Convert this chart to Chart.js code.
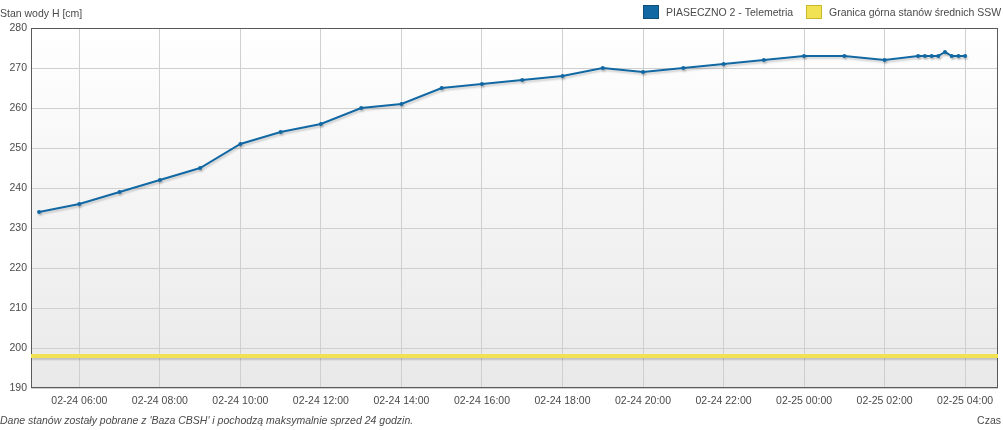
<!DOCTYPE html>
<html>
<head>
<meta charset="utf-8">
<script src="https://cdn.jsdelivr.net/npm/chart.js@4/dist/chart.umd.min.js"></script>
<style>
  html, body { margin: 0; padding: 0; background: #fff; }
  #wrap { width: 1003px; height: 430px; position: relative; }
</style>
</head>
<body>
<div id="wrap"><canvas id="chart" width="1003" height="430"></canvas></div>
<script>
// measurement times and water levels (cm)
const times = [
  '02-24 05:00', '02-24 06:00', '02-24 07:00', '02-24 08:00', '02-24 09:00', '02-24 10:00',
  '02-24 11:00', '02-24 12:00', '02-24 13:00', '02-24 14:00', '02-24 15:00', '02-24 16:00',
  '02-24 17:00', '02-24 18:00', '02-24 19:00', '02-24 20:00', '02-24 21:00', '02-24 22:00',
  '02-24 23:00', '02-25 00:00', '02-25 01:00', '02-25 02:00', '02-25 02:50', '02-25 03:00',
  '02-25 03:10', '02-25 03:20', '02-25 03:30', '02-25 03:40', '02-25 03:50', '02-25 04:00'
];
const levels = [
  234, 236, 239, 242, 245, 251,
  254, 256, 260, 261, 265, 266,
  267, 268, 270, 269, 270, 271,
  272, 273, 273, 272, 273, 273,
  273, 273, 274, 273, 273, 273
];
const sswLevel = 198;
const tickLabels = [
  '02-24 06:00', '02-24 08:00', '02-24 10:00', '02-24 12:00', '02-24 14:00', '02-24 16:00',
  '02-24 18:00', '02-24 20:00', '02-24 22:00', '02-25 00:00', '02-25 02:00', '02-25 04:00'
];
const axisStart = '02-24 04:48';
const axisEnd = '02-25 04:49';

// hours counted from 02-24 00:00
function toHours(s) {
  const day = parseInt(s.slice(3, 5), 10);
  const h = parseInt(s.slice(6, 8), 10);
  const m = parseInt(s.slice(9, 11), 10);
  return (day - 24) * 24 + h + m / 60;
}
const xMin = toHours(axisStart);
const xMax = toHours(axisEnd);
const tickHours = tickLabels.map(toHours);

const FONT = 'Liberation Sans, Arial, sans-serif';
const FS = 10.5;
const TXT = '#4a4a4a';
const BLUE = '#1168a3';
const YELLOW = '#f1e253';

const chrome = {
  id: 'chrome',
  beforeDraw(chart) {
    const { ctx, chartArea: a } = chart;
    const g = ctx.createLinearGradient(0, a.top, 0, a.bottom);
    g.addColorStop(0, '#ffffff');
    g.addColorStop(1, '#e9e9e9');
    ctx.save();
    ctx.fillStyle = g;
    ctx.fillRect(a.left, a.top, a.right - a.left, a.bottom - a.top);
    ctx.restore();
  },
  beforeDatasetsDraw(chart) {
    const { ctx, chartArea: a } = chart;
    ctx.save();
    ctx.strokeStyle = '#5a5a5a';
    ctx.lineWidth = 1;
    ctx.strokeRect(a.left + 0.5, a.top + 0.5, a.right - a.left - 1, a.bottom - a.top - 1);
    ctx.restore();
  },
  beforeDatasetDraw(chart) {
    const ctx = chart.ctx;
    ctx.save();
    ctx.shadowColor = 'rgba(0,0,0,0.18)';
    ctx.shadowOffsetX = 1;
    ctx.shadowOffsetY = 2;
    ctx.shadowBlur = 2;
  },
  afterDatasetDraw(chart) {
    chart.ctx.restore();
  },
  afterDraw(chart) {
    const ctx = chart.ctx;
    ctx.save();
    ctx.font = FS + 'px ' + FONT;
    ctx.fillStyle = TXT;
    ctx.textBaseline = 'middle';
    ctx.textAlign = 'left';
    ctx.fillText('Stan wody H [cm]', 0, 14);

    // legend
    const items = [
      { x: 643, color: BLUE, border: '#0c4f7a', text: 'PIASECZNO 2 - Telemetria' },
      { x: 806, color: YELLOW, border: '#c9b92a', text: 'Granica górna stanów średnich SSW' }
    ];
    items.forEach(it => {
      ctx.fillStyle = it.color;
      ctx.fillRect(it.x, 5, 16, 14);
      ctx.strokeStyle = it.border;
      ctx.strokeRect(it.x + 0.5, 5.5, 15, 13);
      ctx.fillStyle = TXT;
      ctx.fillText(it.text, it.x + 23, 13);
    });

    ctx.font = 'italic ' + FS + 'px ' + FONT;
    ctx.fillText("Dane stanów zostały pobrane z 'Baza CBSH' i pochodzą maksymalnie sprzed 24 godzin.", 0, 421);
    ctx.font = FS + 'px ' + FONT;
    ctx.textAlign = 'right';
    ctx.fillText('Czas', 1001, 421);
    ctx.restore();
  }
};

new Chart(document.getElementById('chart'), {
  type: 'line',
  data: {
    datasets: [
      {
        label: 'PIASECZNO 2 - Telemetria',
        data: times.map((t, i) => ({ x: toHours(t), y: levels[i] })),
        borderColor: BLUE,
        backgroundColor: BLUE,
        borderWidth: 2,
        pointRadius: 2,
        pointBorderWidth: 0,
        tension: 0
      },
      {
        label: 'Granica górna stanów średnich SSW',
        data: [{ x: xMin, y: sswLevel }, { x: xMax, y: sswLevel }],
        borderColor: YELLOW,
        backgroundColor: YELLOW,
        borderWidth: 4,
        pointRadius: 0,
        order: 1
      }
    ]
  },
  options: {
    responsive: false,
    animation: false,
    layout: { padding: { top: 28, right: 5, left: 0, bottom: 0 } },
    plugins: { legend: { display: false }, tooltip: { enabled: false } },
    scales: {
      x: {
        type: 'linear',
        min: xMin,
        max: xMax,
        afterBuildTicks(scale) { scale.ticks = tickHours.map(v => ({ value: v })); },
        afterFit(scale) { scale.height = 42; },
        ticks: {
          autoSkip: false,
          maxRotation: 0,
          padding: 7,
          color: TXT,
          font: { family: FONT, size: FS },
          callback(v) { return tickLabels[tickHours.indexOf(v)] || ''; }
        },
        grid: { color: '#cfcfcf', drawTicks: false },
        border: { display: false }
      },
      y: {
        min: 190,
        max: 280,
        afterFit(scale) { scale.width = 31; },
        ticks: {
          stepSize: 10,
          padding: 4,
          color: TXT,
          font: { family: FONT, size: FS }
        },
        grid: { color: '#cfcfcf', drawTicks: false },
        border: { display: false }
      }
    }
  },
  plugins: [chrome]
});
</script>
</body>
</html>
